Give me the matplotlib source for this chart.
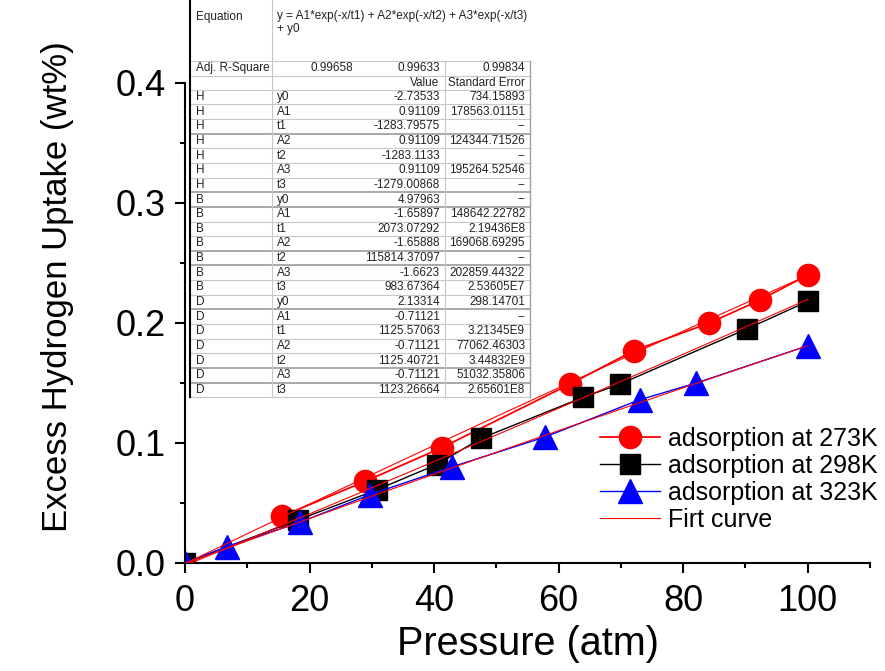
import numpy as np
import matplotlib
matplotlib.use("Agg")
import matplotlib.pyplot as plt
from matplotlib.lines import Line2D
from matplotlib.ticker import MultipleLocator

plt.rcParams['font.family'] = ['Liberation Sans', 'DejaVu Sans']

# isotherm data: pressure (atm) and excess uptake (wt%)
p_273 = [15.6, 28.9, 41.2, 61.8, 72.1, 84.2, 92.3, 100.0]
u_273 = [0.039, 0.068, 0.096, 0.149, 0.177, 0.200, 0.219, 0.240]

p_298 = [0, 18.2, 30.8, 40.4, 47.6, 63.9, 69.8, 90.2, 100.0]
u_298 = [0, 0.036, 0.061, 0.082, 0.104, 0.138, 0.149, 0.195, 0.218]

p_323 = [0, 6.7, 18.5, 29.7, 42.8, 57.8, 73.0, 82.1, 100.0]
u_323 = [0, 0.0136, 0.034, 0.057, 0.080, 0.105, 0.136, 0.150, 0.181]

# fit report (Origin ExpDec3)
equation = ["y = A1*exp(-x/t1) + A2*exp(-x/t2) + A3*exp(-x/t3)", "+ y0"]
adj_r2 = ["0.99658", "0.99633", "0.99834"]
groups = ["H"] * 7 + ["B"] * 7 + ["D"] * 7
params = ["y0", "A1", "t1", "A2", "t2", "A3", "t3"] * 3
values = ["-2.73533", "0.91109", "-1283.79575", "0.91109", "-1283.1133", "0.91109", "-1279.00868",
          "4.97963", "-1.65897", "2073.07292", "-1.65888", "115814.37097", "-1.6623", "983.67364",
          "2.13314", "-0.71121", "1125.57063", "-0.71121", "1125.40721", "-0.71121", "1123.26664"]
errors = ["734.15893", "178563.01151", "--", "124344.71526", "--", "195264.52546", "--",
          "--", "148642.22782", "2.19436E8", "169068.69295", "--", "202859.44322", "2.53605E7",
          "298.14701", "--", "3.21345E9", "77062.46303", "3.44832E9", "51032.35806", "2.65601E8"]


def expdec3(x, vals):
    y0, a1, t1, a2, t2, a3, t3 = [float(v) for v in vals]
    return y0 + a1 * np.exp(-x / t1) + a2 * np.exp(-x / t2) + a3 * np.exp(-x / t3)


W, H = 885, 671
fig = plt.figure(figsize=(W / 100, H / 100), dpi=100)
ax = fig.add_axes([185 / W, (H - 563) / H, 685 / W, 480 / H])

xf = np.linspace(0, 100, 200)
for k in range(3):
    ax.plot(xf, expdec3(xf, values[7 * k:7 * k + 7]), color='red', lw=0.8, zorder=3)

ax.plot(p_273, u_273, color='red', lw=1.3, marker='o', ms=16, zorder=2)
ax.plot(p_298, u_298, color='black', lw=1.0, marker='s', ms=14, zorder=2)
ax.plot(p_323, u_323, color='blue', lw=1.0, marker='^', ms=17, zorder=2)

ax.set_xlim(0, 110)
ax.set_ylim(0, 0.4)
ax.xaxis.set_major_locator(MultipleLocator(20))
ax.xaxis.set_minor_locator(MultipleLocator(10))
ax.yaxis.set_major_locator(MultipleLocator(0.1))
ax.yaxis.set_minor_locator(MultipleLocator(0.05))
ax.yaxis.set_major_formatter(matplotlib.ticker.FormatStrFormatter('%.1f'))
for s in ['top', 'right']:
    ax.spines[s].set_visible(False)
for s in ['left', 'bottom']:
    ax.spines[s].set_linewidth(1.5)
ax.tick_params(which='major', direction='out', length=7, width=1.5, labelsize=26)
ax.tick_params(which='minor', direction='out', length=3.6, width=1.5)
ax.tick_params(axis='x', which='major', pad=8)
ax.tick_params(axis='y', which='major', pad=7)

fig.text(528 / W, 1 - 644 / H, "Pressure (atm)", fontsize=28.5, ha='center', va='center')
fig.text(58 / W, 1 - 287 / H, "Excess Hydrogen Uptake (wt%)", fontsize=25,
         rotation=90, ha='center', va='center')

handles = [
    Line2D([], [], color='red', lw=1.3, marker='o', ms=16),
    Line2D([], [], color='black', lw=1.0, marker='s', ms=14),
    Line2D([], [], color='blue', lw=1.0, marker='^', ms=17),
    Line2D([], [], color='red', lw=0.8),
]
labels = ["adsorption at 273K", "adsorption at 298K", "adsorption at 323K", "Firt curve"]
fig.legend(handles, labels, loc='upper left', bbox_to_anchor=(600 / W, 1 - 427 / H),
           frameon=False, fontsize=18, handlelength=2.4, handletextpad=0.3,
           labelspacing=0.12, borderpad=0, borderaxespad=0)

# fit report table drawn in pixel coordinates
tax = fig.add_axes([0, 0, 1, 1], zorder=5)
tax.set_xlim(0, W)
tax.set_ylim(H, 0)
tax.axis('off')
tax.add_patch(plt.Rectangle((190, 0), 340, 396, facecolor='white', edgecolor='none'))

fs = 8.5
tc = '#222222'
tax.text(196, 17, "Equation", fontsize=fs, color=tc, va='center')
tax.text(277, 16, equation[0], fontsize=fs, color=tc, va='center')
tax.text(277, 29, equation[1], fontsize=fs, color=tc, va='center')
tax.text(196, 68, "Adj. R-Square", fontsize=fs, color=tc, va='center')
for xr, v in zip([353, 440, 525], adj_r2):
    tax.text(xr, 68, v, fontsize=fs, color=tc, va='center', ha='right')
tax.text(439, 83, "Value", fontsize=fs, color=tc, va='center', ha='right')
tax.text(525, 83, "Standard Error", fontsize=fs, color=tc, va='center', ha='right')

row_h = 14.65
for i, (g, p, v, e) in enumerate(zip(groups, params, values, errors)):
    yc = 97 + i * row_h
    tax.text(196, yc, g, fontsize=fs, color=tc, va='center')
    tax.text(277, yc, p, fontsize=fs, color=tc, va='center')
    tax.text(440, yc, v, fontsize=fs, color=tc, va='center', ha='right')
    tax.text(525, yc, e, fontsize=fs, color=tc, va='center', ha='right')

grid = '#c8c8c8'
heavy = {2, 6, 7, 10, 11, 14, 18, 19}
tax.plot([190, 530], [61, 61], color=grid, lw=0.8)
tax.plot([190, 530], [75.5, 75.5], color=grid, lw=0.8)
tax.plot([190, 530], [90, 90], color=grid, lw=0.8)
for i in range(21):
    yl = 97 + i * row_h + row_h / 2
    if i in heavy:
        tax.plot([190, 530], [yl, yl], color='#a8a8a8', lw=1.4)
    else:
        tax.plot([190, 530], [yl, yl], color=grid, lw=0.8)
tax.plot([190, 190], [0, 397], color='black', lw=1.5)
tax.plot([272, 272], [0, 397], color=grid, lw=0.8)
tax.plot([445, 445], [61, 397], color=grid, lw=0.8)
tax.plot([530, 530], [61, 397], color='#a0a0a0', lw=1.0)

fig.savefig("out.png", dpi=100)
